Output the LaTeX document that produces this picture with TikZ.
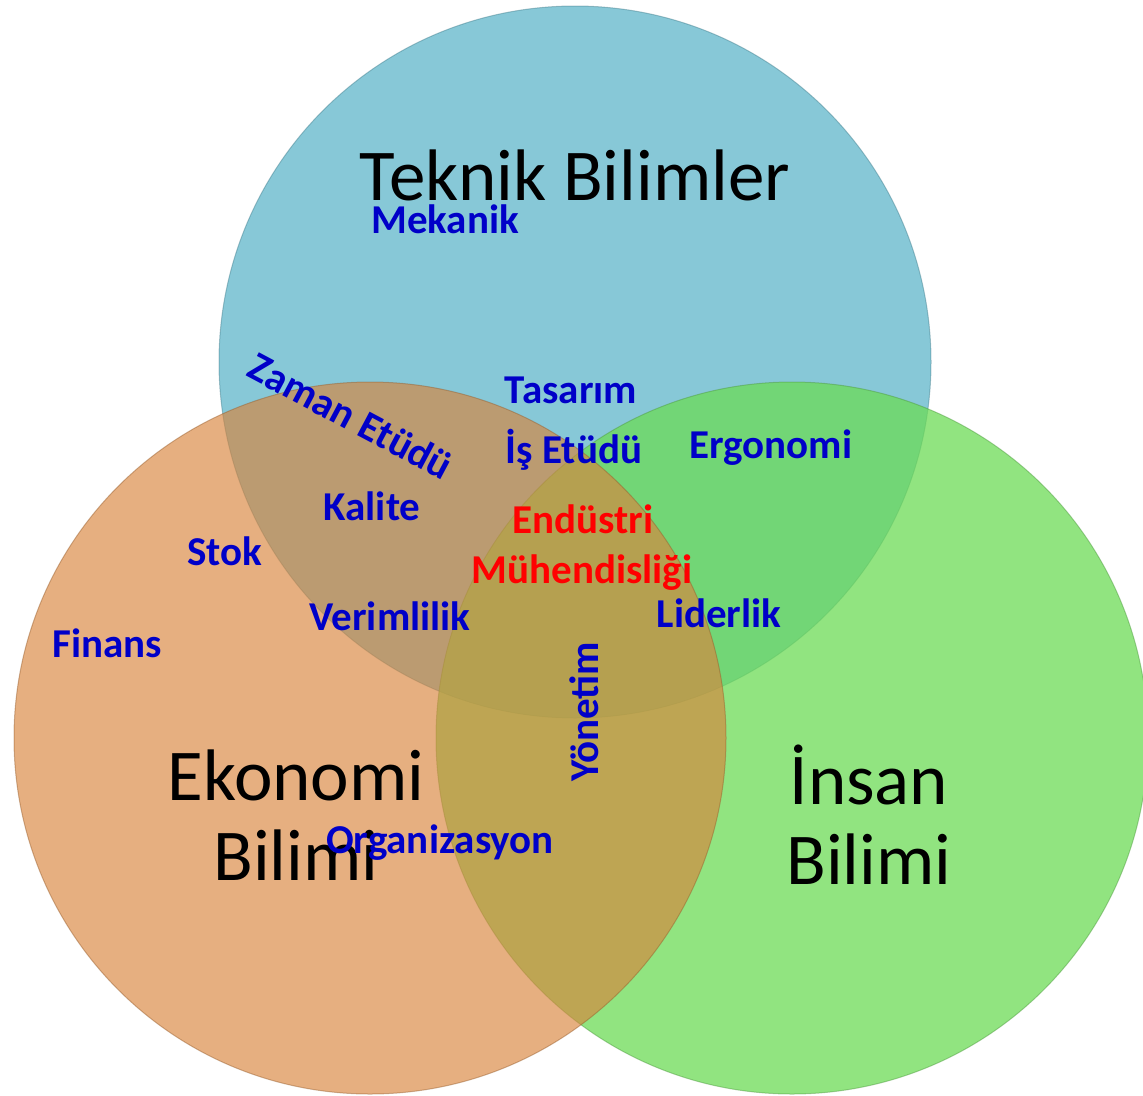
\documentclass[tikz,border=0pt]{standalone}
\usepackage{fontspec}
\setmainfont{Carlito}
\definecolor{teknikmavi}{RGB}{95,182,202}
\definecolor{ekonomituruncu}{RGB}{216,132,60}
\definecolor{insanyesil}{RGB}{108,219,86}
\definecolor{etiketmavi}{RGB}{0,0,200}

\begin{document}
\begin{tikzpicture}[x=1pt,y=-1pt,
  daire/.style={circle,minimum size=712pt,inner sep=0pt,fill opacity=0.75,line width=1pt,draw opacity=0.45},
  alan/.style={font=\fontsize{73}{80}\selectfont,align=center},
  konu/.style={font=\fontsize{41}{45}\selectfont\bfseries,text=etiketmavi,anchor=base},
  ana/.style={konu,text=red}]
\useasboundingbox (0,0) rectangle (1143,1095);
\draw (575,362) node[daire,fill=teknikmavi,draw=teknikmavi!70!black](teknikdaire) {};
\draw (792,738) node[daire,fill=insanyesil,draw=insanyesil!70!black](insandaire) {};
\draw (370,738) node[daire,fill opacity=0.65,fill=ekonomituruncu,draw=ekonomituruncu!70!black](ekonomidaire) {};
\draw (575,200) node[alan,anchor=base](teknik) {Teknik Bilimler};
\draw (296,815) node[alan](ekonomi) {Ekonomi\\Bilimi};
\draw (869,815) node[alan](insan) {İnsan\\Bilimi};
\draw (445,233) node[konu](mekanik) {Mekanik};
\draw (351,416) node[konu,anchor=center,rotate=-28](zaman) {Zaman Etüdü};
\draw (571,403) node[konu](tasarim) {Tasarım};
\draw (574,463) node[konu](isetudu) {İş Etüdü};
\draw (771,458) node[konu](ergonomi) {Ergonomi};
\draw (372,520) node[konu](kalite) {Kalite};
\draw (225,565) node[konu](stok) {Stok};
\draw (583,533) node[ana](endustri) {Endüstri};
\draw (582,583) node[ana](muhendislik) {Mühendisliği};
\draw (719,627) node[konu](liderlik) {Liderlik};
\draw (390,630) node[konu](verimlilik) {Verimlilik};
\draw (107,657) node[konu](finans) {Finans};
\draw (584,712) node[konu,anchor=center,rotate=90](yonetim) {Yönetim};
\draw (440,853) node[konu](organizasyon) {Organizasyon};
\end{tikzpicture}
\end{document}
